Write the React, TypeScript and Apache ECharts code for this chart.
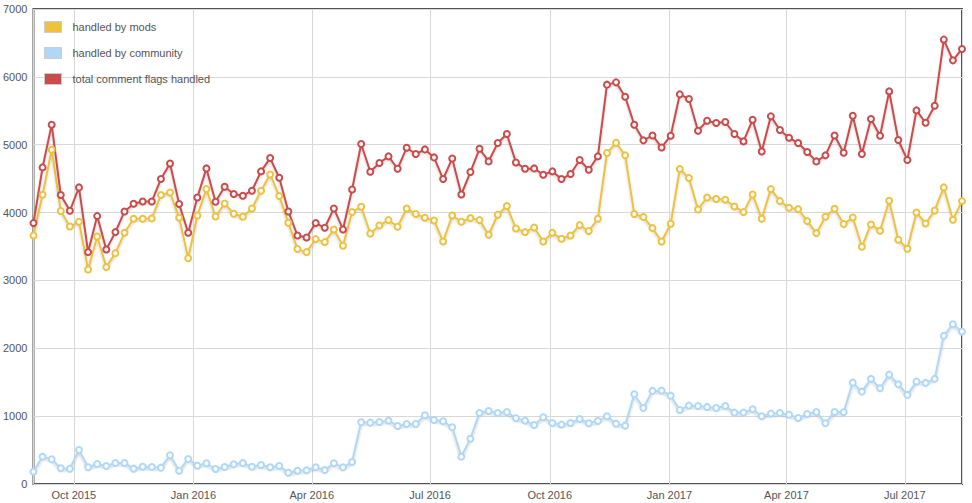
import React, { useEffect, useRef } from 'react';
import * as echarts from 'echarts';

// Weekly data, first week starting Mon 31 Aug 2015
const firstWeek = { year: 2015, month: 7, day: 31 };
const weekCount = 103;

const seriesNames = ['handled by mods', 'handled by community', 'total comment flags handled'];
const seriesColors = ['#edc240', '#afd8f8', '#cb4b4b'];

const modsValues = [
  3662, 4263, 4926, 4022, 3795, 3864, 3161, 3648, 3196, 3402,
  3702, 3909, 3909, 3914, 4258, 4297, 3923, 3328, 3957, 4346,
  3942, 4134, 3982, 3938, 4061, 4322, 4562, 4243, 3850, 3462,
  3417, 3609, 3565, 3751, 3510, 4007, 4086, 3692, 3810, 3889,
  3791, 4061, 3978, 3923, 3884, 3574, 3957, 3864, 3918, 3889,
  3673, 3968, 4096, 3766, 3712, 3781, 3574, 3702, 3614, 3662,
  3815, 3727, 3909, 4877, 5029, 4843, 3978, 3934, 3771, 3574,
  3835, 4641, 4509, 4046, 4223, 4199, 4189, 4090, 4007, 4267,
  3909, 4346, 4169, 4071, 4051, 3874, 3697, 3938, 4056, 3830,
  3928, 3496, 3825, 3732, 4174, 3599, 3466, 4002, 3839, 4031,
  4371, 3894, 4169,
];

const communityValues = [
  182, 403, 364, 232, 226, 501, 246, 295, 265, 310,
  310, 226, 255, 251, 241, 423, 196, 369, 270, 305,
  221, 251, 290, 310, 255, 280, 246, 265, 167, 196,
  202, 246, 206, 305, 246, 324, 910, 904, 914, 934,
  855, 885, 885, 1013, 944, 925, 836, 403, 668, 1047,
  1077, 1047, 1062, 969, 934, 870, 984, 900, 875, 900,
  959, 895, 929, 998, 889, 860, 1323, 1121, 1372, 1376,
  1302, 1091, 1155, 1150, 1136, 1121, 1150, 1052, 1052, 1102,
  998, 1037, 1047, 1022, 973, 1032, 1062, 895, 1062, 1057,
  1494, 1361, 1549, 1411, 1612, 1470, 1313, 1509, 1490, 1549,
  2183, 2355, 2246,
];

const totalValues = [
  3845, 4666, 5295, 4258, 4027, 4371, 3417, 3948, 3456, 3712,
  4017, 4130, 4164, 4164, 4494, 4724, 4125, 3702, 4223, 4651,
  4159, 4381, 4273, 4248, 4322, 4607, 4803, 4513, 4017, 3662,
  3633, 3845, 3776, 4061, 3751, 4341, 5010, 4602, 4730, 4828,
  4646, 4956, 4863, 4931, 4813, 4494, 4798, 4267, 4597, 4941,
  4754, 5025, 5158, 4739, 4646, 4651, 4558, 4607, 4494, 4568,
  4774, 4631, 4828, 5885, 5919, 5708, 5295, 5064, 5137, 4960,
  5133, 5742, 5674, 5206, 5354, 5320, 5335, 5158, 5049, 5369,
  4901, 5418, 5217, 5103, 5025, 4892, 4754, 4843, 5137, 4882,
  5428, 4863, 5379, 5133, 5786, 5069, 4774, 5506, 5324, 5575,
  6549, 6243, 6411,
];

const monthNames = ['Jan', 'Feb', 'Mar', 'Apr', 'May', 'Jun', 'Jul', 'Aug', 'Sep', 'Oct', 'Nov', 'Dec'];

const weeks = Array.from({ length: weekCount }, (_, i) =>
  new Date(firstWeek.year, firstWeek.month, firstWeek.day + 7 * i).getTime()
);

const FONT = '"Liberation Sans", Arial, Helvetica, sans-serif';
const TEXT = '#545454';
const GRIDLINE = '#d8d8d8';
const DAY = 86400000;

function makeSeries(name: string, color: string, values: number[]) {
  return {
    name,
    type: 'line',
    color,
    data: values.map((v, i) => [weeks[i], v]),
    symbol: 'circle',
    symbolSize: 6,
    showSymbol: true,
    lineStyle: {
      color,
      width: 2,
      shadowColor: 'rgba(0,0,0,0.18)',
      shadowBlur: 2,
      shadowOffsetY: 2,
    },
    itemStyle: { color: '#ffffff', borderColor: color, borderWidth: 2 },
    emphasis: { disabled: true },
    silent: true,
  };
}

export default function App() {
  const ref = useRef<HTMLDivElement>(null);
  useEffect(() => {
    if (!ref.current) return;
    const chart = echarts.init(ref.current, undefined, { renderer: 'svg' });
    const option = {
      animation: false,
      backgroundColor: '#ffffff',
      grid: {
        left: 33,
        right: 10,
        top: 9,
        bottom: 19,
        show: true,
        borderColor: '#545454',
        borderWidth: 2,
        backgroundColor: 'transparent',
        containLabel: false,
      },
      xAxis: {
        type: 'time',
        min: weeks[0],
        max: weeks[weeks.length - 1],
        minInterval: 92 * DAY,
        maxInterval: 92 * DAY,
        axisLine: { show: false },
        axisTick: { show: false },
        splitLine: { show: true, lineStyle: { color: GRIDLINE, width: 1 } },
        axisLabel: {
          color: TEXT,
          fontSize: 11,
          fontFamily: FONT,
          margin: 5,
          showMinLabel: false,
          showMaxLabel: false,
          formatter: (value: number) => {
            const d = new Date(value);
            return monthNames[d.getMonth()] + ' ' + d.getFullYear();
          },
        },
      },
      yAxis: {
        type: 'value',
        min: 0,
        max: 7000,
        interval: 1000,
        axisLine: { show: false },
        axisTick: { show: false },
        splitLine: { show: true, lineStyle: { color: GRIDLINE, width: 1 } },
        axisLabel: {
          color: TEXT,
          fontSize: 11,
          fontFamily: FONT,
          margin: 6,
          formatter: (value: number) => String(value),
        },
      },
      legend: {
        orient: 'vertical',
        left: 44,
        top: 21,
        padding: 0,
        itemWidth: 17,
        itemHeight: 11,
        itemGap: 14,
        icon: 'rect',
        selectedMode: false,
        textStyle: { color: TEXT, fontSize: 11, fontFamily: FONT, padding: [0, 0, 0, 6] },
        data: seriesNames.map((n, i) => ({
          name: n,
          itemStyle: { color: seriesColors[i], borderColor: '#cccccc', borderWidth: 1 },
        })),
      },
      series: [
        makeSeries(seriesNames[0], seriesColors[0], modsValues),
        makeSeries(seriesNames[1], seriesColors[1], communityValues),
        makeSeries(seriesNames[2], seriesColors[2], totalValues),
      ],
    };
    chart.setOption(option as any);
    return () => chart.dispose();
  }, []);
  return (
    <div
      ref={ref}
      style={{ position: 'fixed', left: 0, top: 0, width: 972, height: 503 }}
    />
  );
}
